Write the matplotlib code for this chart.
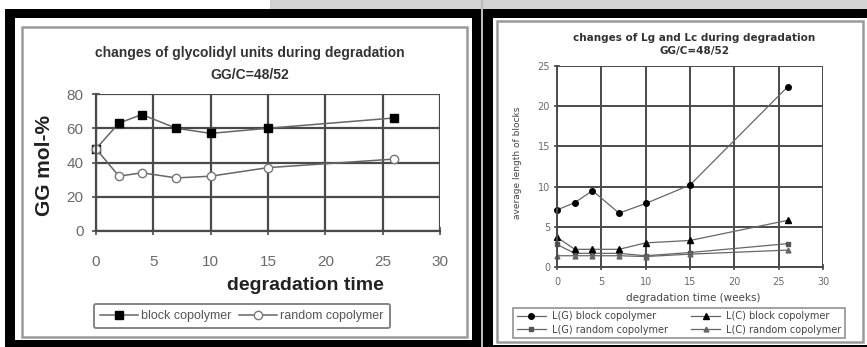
import matplotlib.pyplot as plt
from matplotlib.patches import Rectangle

W, H = 867, 347

# degradation time (weeks)
weeks = [0, 2, 4, 7, 10, 15, 26]

# left chart: GG mol-%
gg_block = [48, 63, 68, 60, 57, 60, 66]
gg_random = [48, 32, 34, 31, 32, 37, 42]

# right chart: average length of blocks
lg_block = [7.1, 8.0, 9.5, 6.7, 7.9, 10.2, 22.4]
lc_block = [3.7, 2.2, 2.2, 2.2, 3.0, 3.3, 5.8]
lg_random = [2.8, 1.7, 1.7, 1.7, 1.4, 1.8, 2.9]
lc_random = [1.4, 1.4, 1.4, 1.4, 1.3, 1.6, 2.1]

left_yticks = [0, 20, 40, 60, 80]
right_yticks = [0, 5, 10, 15, 20, 25]
xticks = [0, 5, 10, 15, 20, 25, 30]

plt.rcParams['font.family'] = ['Liberation Sans', 'DejaVu Sans']
RF = 'DejaVu Sans'  # wider face for the right-hand chart

fig = plt.figure(figsize=(W / 100, H / 100), dpi=100)
fig.patch.set_facecolor('white')


def fx(x):
    return x / W


def fy(y):
    return 1 - y / H


def box(x0, y0, x1, y1, **kw):
    # rectangle given in pixel coords (top-left origin), drawn under the axes
    fig.patches.append(Rectangle((fx(x0), fy(y1)), fx(x1) - fx(x0), fy(y0) - fy(y1),
                                 transform=fig.transFigure, figure=fig, zorder=-10, **kw))


def axes_px(x0, y0, x1, y1):
    return fig.add_axes([fx(x0), fy(y1), fx(x1) - fx(x0), fy(y0) - fy(y1)])


# page background / frames
box(270, 0, 867, 9, facecolor='#d2d2d2', edgecolor='none')
box(5, 9, 867, 347, facecolor='black', edgecolor='none')
box(481, 0, 483, 347, facecolor='#bbbbbb', edgecolor='none')
box(15, 18, 472, 340, facecolor='white', edgecolor='none')
box(493, 18, 867, 345, facecolor='white', edgecolor='none')
box(22, 27, 467, 337, facecolor='none', edgecolor='#9a9a9a', linewidth=1.8)
box(497, 21, 863, 342, facecolor='none', edgecolor='#9a9a9a', linewidth=1.8)

grid_c = '#4a4a4a'
line_c = '#666666'


def style(ax, fs, ypad, xpad, tl, lw, family=None):
    ax.patch.set_alpha(0)
    for s in ['top', 'right']:
        ax.spines[s].set_visible(False)
    for s in ['left', 'bottom']:
        ax.spines[s].set_color(grid_c)
        ax.spines[s].set_linewidth(lw)
    ax.grid(True, color=grid_c, linewidth=lw)
    ax.set_axisbelow(True)
    ax.tick_params(axis='both', direction='inout', length=tl, width=1.2,
                   color=grid_c, labelsize=fs, labelcolor='#6a6a6a')
    ax.tick_params(axis='y', pad=ypad)
    ax.tick_params(axis='x', pad=xpad)
    if family:
        for t in ax.get_xticklabels() + ax.get_yticklabels():
            t.set_family(family)


# ---- left chart ----
ax1 = axes_px(96, 94, 440, 231)
ax1.plot(weeks, gg_block, color=line_c, lw=1.1, marker='s', ms=6,
         mfc='black', mec='black', label='block copolymer', clip_on=False)
ax1.plot(weeks, gg_random, color=line_c, lw=1.1, marker='o', ms=6,
         mfc='white', mec='#777777', label='random copolymer', clip_on=False)
ax1.set_xlim(0, 30)
ax1.set_ylim(0, 80)
ax1.set_xticks(xticks)
ax1.set_yticks(left_yticks)
style(ax1, 11, 6, 14, 6, 1.6)

fig.text(fx(250), fy(53), 'changes of glycolidyl units during degradation',
         ha='center', va='center', fontsize=10, fontweight='bold', color='#333333')
fig.text(fx(250), fy(75), 'GG/C=48/52', ha='center', va='center',
         fontsize=10, fontweight='bold', color='#333333')
fig.text(fx(45), fy(165), 'GG mol-%', ha='center', va='center', rotation=90,
         fontsize=15, fontweight='bold', color='#222222')
fig.text(fx(305), fy(285), 'degradation time', ha='center', va='center',
         fontsize=14, fontweight='bold', color='#222222')

h, l = ax1.get_legend_handles_labels()
fig.legend(h, l, loc='center', bbox_to_anchor=(fx(242), fy(316)), ncol=2,
           fontsize=9, frameon=True, fancybox=True, edgecolor='#666666',
           handlelength=3, columnspacing=0.6, handletextpad=0.3,
           labelcolor='#555555', borderpad=0.5).get_frame().set_linewidth(1.4)

# ---- right chart ----
ax2 = axes_px(557, 66, 823, 267)
ax2.plot(weeks, lg_block, color=line_c, lw=0.9, marker='o', ms=4,
         mfc='black', mec='black', label='L(G) block copolymer', clip_on=False)
ax2.plot(weeks, lg_random, color=line_c, lw=0.9, marker='s', ms=3.5,
         mfc='#555555', mec='#555555', label='L(G) random copolymer', clip_on=False)
ax2.plot(weeks, lc_block, color=line_c, lw=0.9, marker='^', ms=4,
         mfc='black', mec='black', label='L(C) block copolymer', clip_on=False)
ax2.plot(weeks, lc_random, color=line_c, lw=0.9, marker='^', ms=3.5,
         mfc='#666666', mec='#666666', label='L(C) random copolymer', clip_on=False)
ax2.set_xlim(0, 30)
ax2.set_ylim(0, 25)
ax2.set_xticks(xticks)
ax2.set_yticks(right_yticks)
style(ax2, 7, 3, 5, 4, 1.4, family=RF)

fig.text(fx(694), fy(38), 'changes of Lg and Lc during degradation',
         ha='center', va='center', fontsize=7.5, fontweight='bold',
         family=RF, color='#333333')
fig.text(fx(695), fy(51), 'GG/C=48/52', ha='center', va='center',
         fontsize=7.5, fontweight='bold', family=RF, color='#333333')
fig.text(fx(517), fy(163), 'average length of blocks', ha='center', va='center',
         rotation=90, fontsize=6.5, family=RF, color='#444444')
fig.text(fx(693), fy(298), 'degradation time (weeks)', ha='center', va='center',
         fontsize=7.5, family=RF, color='#444444')

h, l = ax2.get_legend_handles_labels()
fig.legend(h, l, loc='center', bbox_to_anchor=(fx(679), fy(323)), ncol=2,
           prop={'family': RF, 'size': 7}, frameon=True, fancybox=False,
           edgecolor='#777777', handlelength=3.0, columnspacing=2.4,
           handletextpad=0.6, labelspacing=0.35, labelcolor='#444444',
           borderpad=0.35).get_frame().set_linewidth(1.2)

fig.savefig('out.png', dpi=100)
